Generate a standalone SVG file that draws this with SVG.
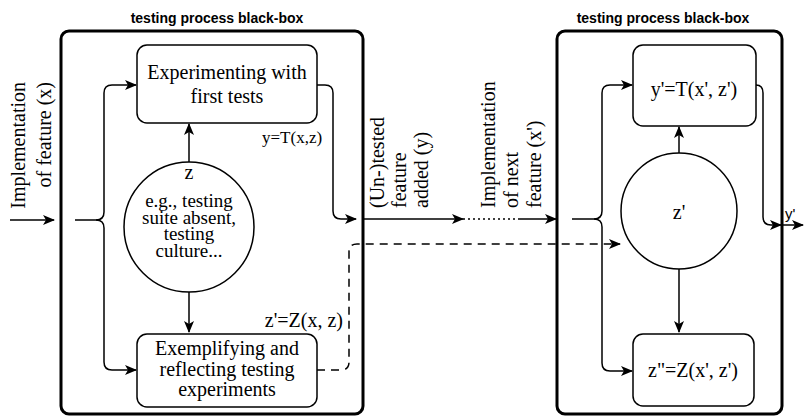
<svg xmlns="http://www.w3.org/2000/svg" width="804" height="416" viewBox="0 0 804 416">
<defs>
<marker id="arr" markerUnits="userSpaceOnUse" markerWidth="12" markerHeight="10" viewBox="0 0 12 10" refX="11" refY="5" orient="auto">
<path d="M0,0 L12,5 L0,10 L3,5 z" fill="#000"/>
</marker>
<style>
.big{fill:#fff;stroke:#000;stroke-width:3}
.box{fill:#fff;stroke:#000;stroke-width:1.5}
.ln{fill:none;stroke:#000;stroke-width:1.5}
.ar{marker-end:url(#arr)}
.dash{stroke-dasharray:8 6}
.dot{stroke-dasharray:2 3}
.t{font-family:"Liberation Serif","Times New Roman",serif;font-size:20px;fill:#000}
.tc{font-family:"Liberation Serif","Times New Roman",serif;font-size:19px;fill:#000}
.ts{font-family:"Liberation Serif","Times New Roman",serif;font-size:17px;fill:#000}
.ti{font-family:"Liberation Sans",Arial,sans-serif;font-size:14px;font-weight:bold;fill:#000}
.s{font-family:"Liberation Sans",Arial,sans-serif;font-size:15px;fill:#000}
.c{text-anchor:middle}
</style>
</defs>
<rect width="804" height="416" fill="#fff"/>

<g id="blackbox1">
<rect class="big" x="61" y="31" width="302" height="383" rx="8"/>
<text class="ti c" x="217" y="23">testing process black-box</text>
</g>
<g id="blackbox2">
<rect class="big" x="557" y="31" width="225" height="383" rx="8"/>
<text class="ti c" x="663" y="23">testing process black-box</text>
</g>

<g id="experimenting">
<rect class="box" x="137" y="45" width="180" height="78" rx="10"/>
<text class="t c" x="227" y="79">Experimenting with</text>
<text class="t c" x="227" y="103">first tests</text>
</g>
<g id="exemplifying">
<rect class="box" x="137" y="334" width="180" height="73" rx="10"/>
<text class="t c" x="227" y="355">Exemplifying and</text>
<text class="t c" x="227" y="376">reflecting testing</text>
<text class="t c" x="227" y="396">experiments</text>
</g>
<g id="z">
<circle class="box" cx="189" cy="227" r="65"/>
<text class="t c" x="189" y="179">z</text>
<text class="tc c" x="189" y="207">e.g., testing</text>
<text class="tc c" x="189" y="223.5">suite absent,</text>
<text class="tc c" x="189" y="240">testing</text>
<text class="tc c" x="189" y="256.5">culture...</text>
</g>
<g id="yprime">
<rect class="box" x="633" y="45" width="123" height="81" rx="10"/>
<text class="t c" x="694" y="96">y'=T(x', z')</text>
</g>
<g id="zdouble">
<rect class="box" x="633" y="334" width="121" height="72" rx="10"/>
<text class="t c" x="693" y="377">z"=Z(x', z')</text>
</g>
<g id="zprime">
<circle class="box" cx="679" cy="211" r="58"/>
<text class="t c" x="679" y="219">z'</text>
</g>

<g id="connectors">
<path class="ln ar" d="M10,220 H54"/>
<path class="ln ar" d="M75,220 H96 Q104,220 104,212 V93 Q104,85 112,85 H136"/>
<path class="ln ar" d="M96,220 Q104,220 104,228 V362 Q104,370 112,370 H136"/>
<path class="ln ar" d="M317,85 H325 Q333,85 333,93 V211 Q333,219 341,219 H356"/>
<path class="ln ar" d="M189,162 V124"/>
<path class="ln ar" d="M189,292 V332"/>
<path class="ln ar" d="M363,219 H463"/>
<path class="ln dot" d="M463,219 H518"/>
<path class="ln ar" d="M518,219 H556"/>
<path class="ln dash ar" d="M317,370 H341 Q349,370 349,362 V252 Q349,244 357,244 H620"/>
<path class="ln ar" d="M572,219 H594 Q602,219 602,211 V93 Q602,85 610,85 H632"/>
<path class="ln ar" d="M594,219 Q602,219 602,227 V363 Q602,371 610,371 H632"/>
<path class="ln ar" d="M756,85 Q763,85 763,93 V217 Q763,225 771,225 H781"/>
<path class="ln ar" d="M782,225 H803"/>
<path class="ln ar" d="M679,153 V127"/>
<path class="ln ar" d="M679,269 V332"/>
</g>

<g id="labels">
<text class="s" x="785" y="219">y'</text>
<text class="ts" x="262" y="143">y=T(x,z)</text>
<text class="t" x="343" y="327" text-anchor="end">z'=Z(x, z)</text>
<text class="t" transform="translate(25,82) rotate(-90)" text-anchor="end">Implementation</text>
<text class="t" transform="translate(51,82) rotate(-90)" text-anchor="end">of feature (x)</text>
<text class="t" transform="translate(384,208) rotate(-90)">(Un-)tested</text>
<text class="t" transform="translate(406,208) rotate(-90)">feature</text>
<text class="t" transform="translate(428,208) rotate(-90)">added (y)</text>
<text class="t" transform="translate(495,208) rotate(-90)">Implementation</text>
<text class="t" transform="translate(518,208) rotate(-90)">of next</text>
<text class="t" transform="translate(541,208) rotate(-90)">feature (x')</text>
</g>
</svg>
